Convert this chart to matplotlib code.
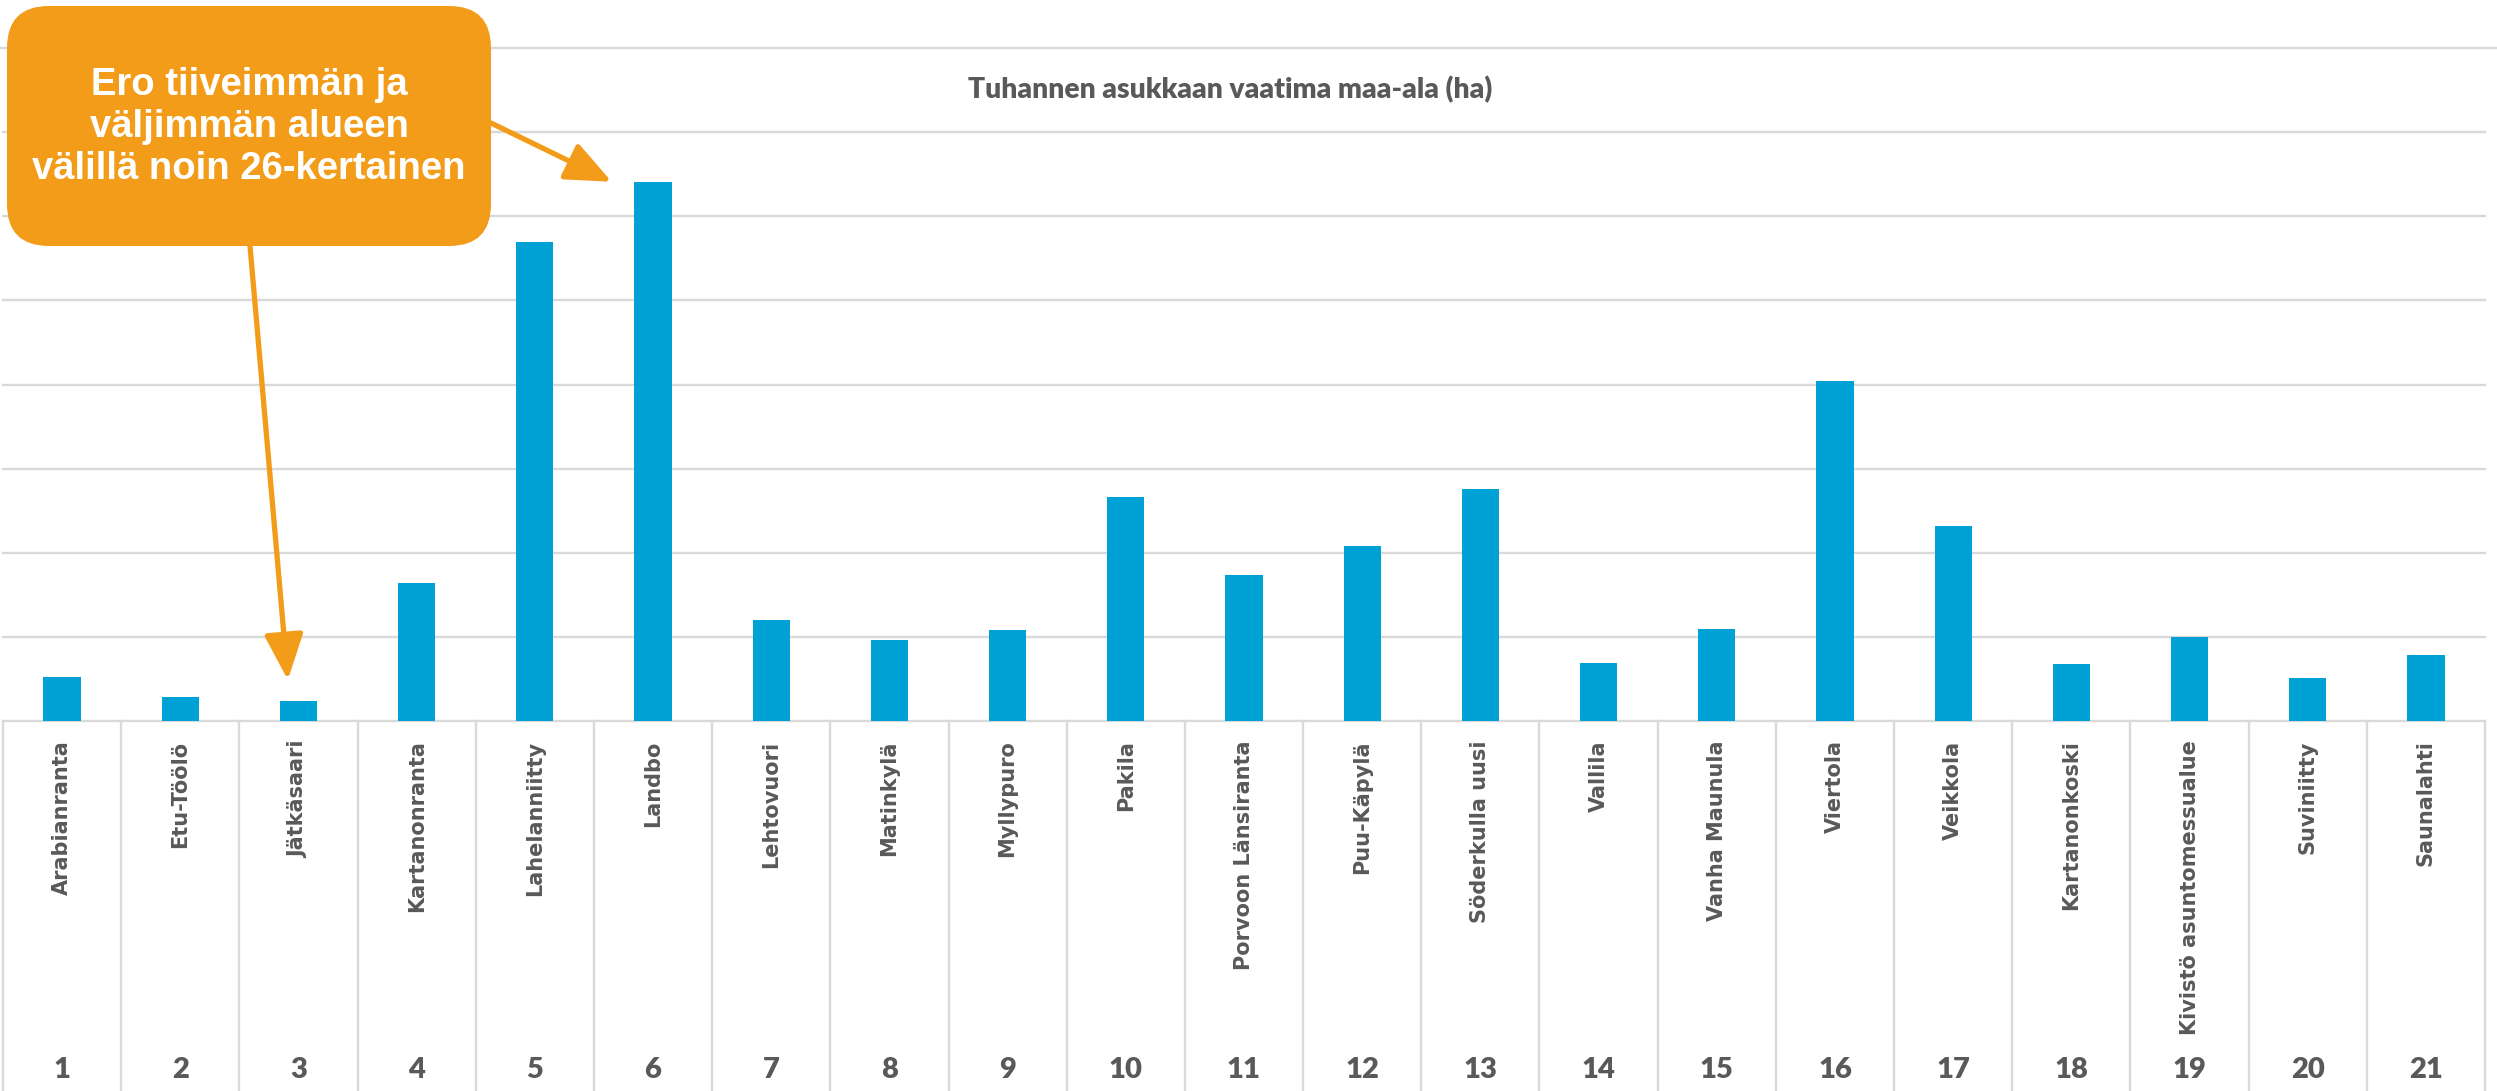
import matplotlib
matplotlib.use("Agg")
import matplotlib.pyplot as plt
from matplotlib.patches import FancyBboxPatch

# ---------------- data ----------------
names = ["Arabianranta", "Etu-Töölö", "Jätkäsaari", "Kartanonranta", "Lahelanniitty",
         "Landbo", "Lehtovuori", "Matinkylä", "Myllypuro", "Pakila",
         "Porvoon Länsiranta", "Puu-Käpylä", "Söderkulla uusi", "Vallila",
         "Vanha Maunula", "Viertola", "Veikkola", "Kartanonkoski",
         "Kivistö asuntomessualue", "Suviniitty", "Saunalahti"]
numbers = [str(i) for i in range(1, 22)]
values = [10.4, 5.8, 4.8, 32.8, 113.8, 128.2, 24.0, 19.2, 21.6, 53.2,
          34.6, 41.6, 55.2, 13.8, 21.8, 80.8, 46.4, 13.6, 20.0, 10.2, 15.6]
y_ticks = [0, 20, 40, 60, 80, 100, 120, 140, 160]
title = "Tuhannen asukkaan vaatima maa-ala (ha)"
callout = "Ero tiiveimmän ja\nväljimmän alueen\nvälillä noin 26-kertainen"

# ---------------- style ----------------
W, H = 2497, 1091
BAR = "#00A2D6"
ORANGE = "#F39C1A"
GRID = "#D9D9D9"
TXT = "#595959"

fig = plt.figure(figsize=(W / 100, H / 100), dpi=100)
fig.patch.set_facecolor("white")

ax_left, ax_right = 3, 2485
ax_top, ax_base = 48, 721
ax = fig.add_axes([ax_left / W, (H - ax_base) / H, (ax_right - ax_left) / W,
                   (ax_base - ax_top) / H])
ax.set_facecolor("none")
x = list(range(len(names)))
ax.bar(x, values, width=0.315, color=BAR, zorder=3)
ax.set_xlim(-0.5, len(names) - 0.5)
ax.set_ylim(0, y_ticks[-1])
ax.set_yticks([])
for s in ax.spines.values():
    s.set_visible(False)

# horizontal gridlines
ax_w = ax_right - ax_left
for v in y_ticks:
    if v == y_ticks[-1]:
        ax.axhline(v, xmin=-ax_left / ax_w, xmax=(W - ax_left) / ax_w,
                   color=GRID, lw=1.7, clip_on=False, zorder=1)
    else:
        ax.axhline(v, color=GRID, lw=1.7, clip_on=False, zorder=1)

# category labels
ax.set_xticks(x)
ax.set_xticklabels(names, rotation=90, fontsize=15, fontweight="bold",
                   color=TXT, family="DejaVu Sans")
ax.tick_params(axis="x", length=0, pad=14)

# category separators down to the bottom of the figure
ax_h = ax_base - ax_top
trans = ax.get_xaxis_transform()
for b in [k - 0.5 for k in range(len(names) + 1)]:
    ax.plot([b, b], [0, -(H - ax_base) / ax_h], transform=trans, color=GRID,
            lw=1.7, clip_on=False, zorder=1)

# outer level numbers
for i, n in enumerate(numbers):
    ax.text(i, -(1070 - ax_base) / ax_h, n, transform=trans, ha="center",
            va="center", fontsize=21, fontweight="heavy", family="Lato",
            color=TXT)

# title
t = fig.text(1230 / W, 1 - 90 / H, title, ha="center", va="center",
             fontsize=20, fontweight="heavy", family="Lato", color=TXT)
fig.canvas.draw()
r = fig.canvas.get_renderer()
for _ in range(3):
    w = t.get_window_extent(r).width
    t.set_fontsize(t.get_fontsize() * 521 / w)

# overlay for callout
oax = fig.add_axes([0, 0, 1, 1], zorder=5)
oax.set_xlim(0, W)
oax.set_ylim(H, 0)
oax.axis("off")
box = FancyBboxPatch((7, 6), 484, 240, boxstyle="round,pad=0,rounding_size=42",
                     fc=ORANGE, ec="none")
oax.add_patch(box)
oax.text(249, 127, callout, ha="center", va="center", multialignment="center",
         color="white", fontsize=27.5, fontweight="bold",
         family="Liberation Sans", linespacing=1.2)

arrow = dict(arrowstyle="-|>,head_length=1.4,head_width=0.6", color=ORANGE,
             lw=3.8, shrinkA=0, shrinkB=0, mutation_scale=20)
ax.annotate("", xy=(5 - 0.35, values[5]), xycoords="data",
            xytext=(491, 123), textcoords=oax.transData,
            arrowprops=arrow, annotation_clip=False, zorder=6)
ax.annotate("", xy=(2 - 0.09, values[2] + 5), xycoords="data",
            xytext=(250, 246), textcoords=oax.transData,
            arrowprops=arrow, annotation_clip=False, zorder=6)

fig.savefig("out.png", dpi=100, facecolor="white")
